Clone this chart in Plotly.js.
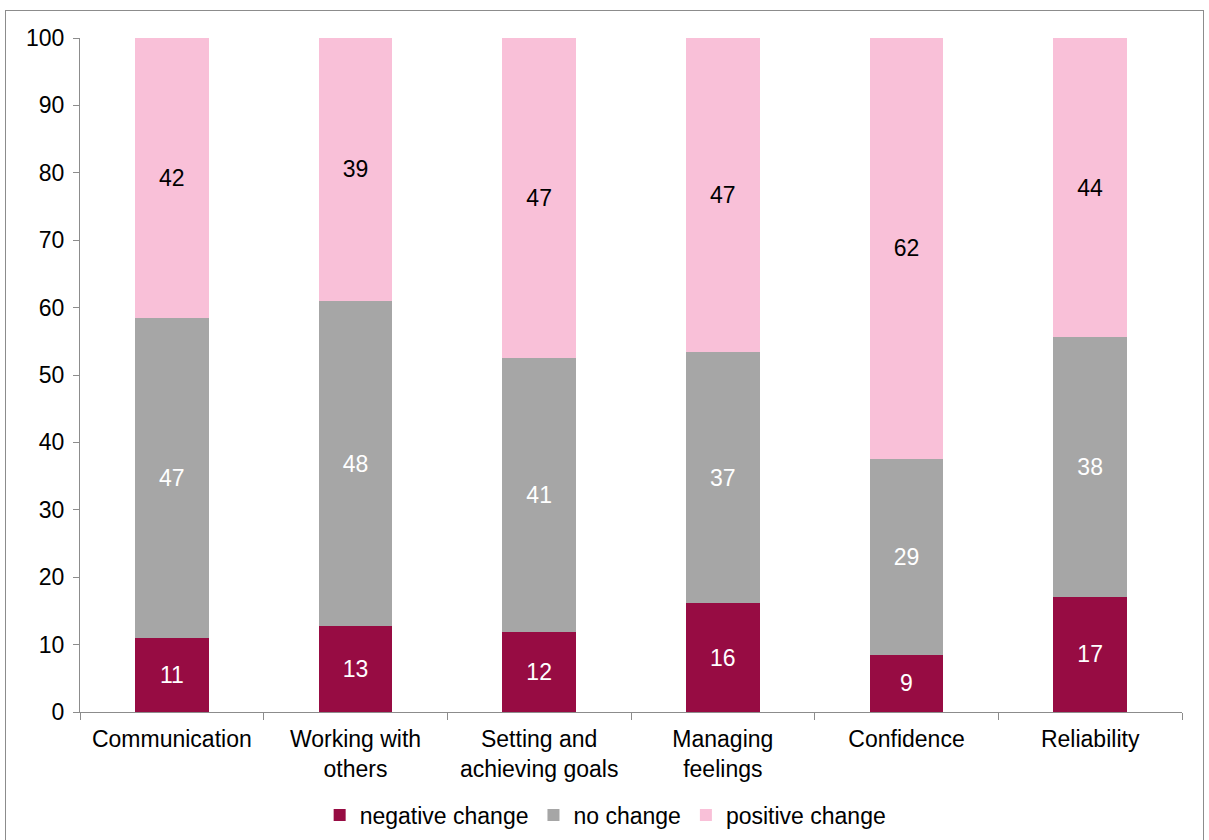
<!DOCTYPE html>
<html>
<head>
<meta charset="utf-8">
<script src="https://cdn.plot.ly/plotly-3.0.1.min.js"></script>
<style>
html,body{margin:0;padding:0;background:#fff;overflow:hidden;}
#frame{position:absolute;left:5px;top:10px;width:1199px;height:830px;border:1px solid #8c8c8c;border-bottom:none;box-sizing:border-box;}
#chart{position:absolute;left:0;top:0;width:1197px;height:829px;}
</style>
</head>
<body>
<div id="frame"><div id="chart"></div></div>
<script>
const categories = ["Communication", "Working with<br>others", "Setting and<br>achieving goals", "Managing<br>feelings", "Confidence", "Reliability"];
const negativeValues = [11.0, 12.7, 11.8, 16.1, 8.5, 17.1];
const noChangeValues = [47.5, 48.3, 40.7, 37.3, 29.1, 38.5];
const positiveValues = [41.5, 39.0, 47.5, 46.6, 62.4, 44.4];
const negativeLabels = ["11", "13", "12", "16", "9", "17"];
const noChangeLabels = ["47", "48", "41", "37", "29", "38"];
const positiveLabels = ["42", "39", "47", "47", "62", "44"];
const yTicks = [0, 10, 20, 30, 40, 50, 60, 70, 80, 90, 100];

const font = {family: "Liberation Sans, Arial, sans-serif", size: 23, color: "#000"};
function bar(name, y, text, color, textColor) {
  return {
    type: "bar", name: name, x: categories, y: y, text: text,
    textposition: "inside", insidetextanchor: "middle", textangle: 0,
    constraintext: "none", texttemplate: "%{text}",
    textfont: {family: font.family, size: 23, color: textColor},
    marker: {color: color, line: {width: 0}},
    hoverinfo: "skip"
  };
}
const data = [
  bar("negative change", negativeValues, negativeLabels, "#970C43", "#fff"),
  bar("no change", noChangeValues, noChangeLabels, "#A6A6A6", "#fff"),
  bar("positive change", positiveValues, positiveLabels, "#F9C0D8", "#000")
];
const layout = {
  barmode: "stack", bargap: 0.6,
  width: 1197, height: 829,
  margin: {l: 74, r: 21, t: 27, b: 128, autoexpand: false},
  paper_bgcolor: "#fff", plot_bgcolor: "#fff",
  font: font,
  showlegend: true,
  legend: {orientation: "h", x: 0.477, xanchor: "center", y: -0.153, yanchor: "middle",
           font: font, traceorder: "normal", itemwidth: 30, itemclick: false},
  xaxis: {type: "category", showgrid: false, zeroline: false, showline: true, linecolor: "#8c8c8c", linewidth: 1,
          ticks: "outside", tickson: "boundaries", ticklen: 7, tickcolor: "#8c8c8c",
          tickfont: font, automargin: false, ticklabelstandoff: 6},
  yaxis: {range: [0, 100], tickvals: yTicks, ticktext: yTicks.map(String), showgrid: false, zeroline: false,
          showline: true, linecolor: "#8c8c8c", linewidth: 1, ticks: "outside", ticklen: 6, tickcolor: "#8c8c8c",
          tickfont: font, automargin: false, ticklabelstandoff: 4}
};
Plotly.newPlot("chart", data, layout, {displayModeBar: false, staticPlot: true});
</script>
</body>
</html>
